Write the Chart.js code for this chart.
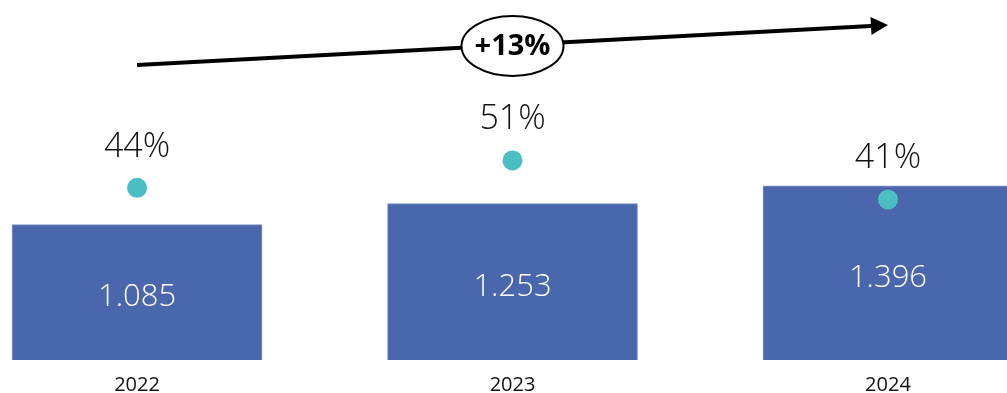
<!DOCTYPE html>
<html lang="es">

<head>
    <meta charset="UTF-8">
    <title>Chart</title>
    <style>
        body {
            margin: 0;
            background: #fff;
        }

        .container {
            width: 1007px;
            height: 393px;
        }
    </style>
</head>

<body>
    <div class="container">
        <canvas id="myChart" width="1007" height="393"></canvas>
    </div>
    <script src="https://cdn.jsdelivr.net/npm/chart.js@4"></script>
    <script>
        let years = ['2022', '2023', '2024'];
        let totals = [1085, 1253, 1396];
        let shares = [44, 51, 41];
        let growthLabel = '+13%';

        let thinFont = '"Open Sans", "Lato", sans-serif';

        // 1085 -> "1.085"
        let fmt = n => String(n).replace(/\B(?=(\d{3})+(?!\d))/g, '.');

        let labelsPlugin = {
            id: 'labels',
            afterDatasetsDraw(chart) {
                let ctx = chart.ctx;
                ctx.save();
                ctx.textAlign = 'center';
                ctx.textBaseline = 'middle';

                let bars = chart.getDatasetMeta(1);
                ctx.fillStyle = '#ffffff';
                ctx.font = '300 31px ' + thinFont;
                bars.data.forEach((el, i) => {
                    ctx.fillText(fmt(totals[i]), el.x, (el.y + el.base) / 2 + 5);
                });

                let pts = chart.getDatasetMeta(0);
                ctx.fillStyle = '#111';
                ctx.font = '300 34px ' + thinFont;
                pts.data.forEach((el, i) => {
                    ctx.fillText(shares[i] + '%', el.x, el.y - 41);
                });
                ctx.restore();
            }
        };

        let arrowPlugin = {
            id: 'arrow',
            afterDraw(chart) {
                let ctx = chart.ctx;
                let xs = chart.scales.x;
                let x0 = xs.getPixelForValue(0);
                let x1 = xs.getPixelForValue(years.length - 1);
                let y0 = 65, y1 = 25;
                let headLen = 17, headW = 9;
                let ang = Math.atan2(y1 - y0, x1 - x0);
                let bx = x1 - headLen * Math.cos(ang);
                let by = y1 - headLen * Math.sin(ang);

                ctx.save();
                ctx.strokeStyle = '#000';
                ctx.fillStyle = '#000';
                ctx.lineWidth = 4;
                ctx.beginPath();
                ctx.moveTo(x0, y0);
                ctx.lineTo(bx, by);
                ctx.stroke();

                ctx.beginPath();
                ctx.moveTo(x1, y1);
                ctx.lineTo(bx + headW * Math.sin(ang), by - headW * Math.cos(ang));
                ctx.lineTo(bx - headW * Math.sin(ang), by + headW * Math.cos(ang));
                ctx.closePath();
                ctx.fill();

                // ellipse with label in the middle
                let cx = xs.getPixelForValue(1);
                let cy = y0 + (y1 - y0) * (cx - x0) / (x1 - x0);
                ctx.beginPath();
                ctx.ellipse(cx, cy + 1, 51, 30, 0, 0, Math.PI * 2);
                ctx.fillStyle = '#fff';
                ctx.fill();
                ctx.lineWidth = 2;
                ctx.stroke();

                ctx.fillStyle = '#000';
                ctx.font = 'bold 29px "Open Sans", sans-serif';
                ctx.textAlign = 'center';
                ctx.textBaseline = 'middle';
                ctx.fillText(growthLabel, cx, cy + 2);
                ctx.restore();
            }
        };

        let ctx = document.getElementById('myChart').getContext('2d');
        let chart = new Chart(ctx, {
            data: {
                datasets: [{
                    type: 'line',
                    label: 'share',
                    data: shares.map((v, i) => ({ x: i, y: v })),
                    yAxisID: 'y2',
                    showLine: false,
                    pointRadius: 10,
                    pointBackgroundColor: '#4bbec4',
                    pointBorderWidth: 0,
                    order: 0
                }, {
                    type: 'bar',
                    label: 'total',
                    data: totals.map((v, i) => ({ x: i, y: v })),
                    yAxisID: 'y',
                    backgroundColor: '#4a66ad',
                    borderColor: '#7f93c9',
                    borderWidth: 1,
                    barThickness: 250,
                    order: 1
                }]
            },
            options: {
                responsive: false,
                animation: false,
                layout: { padding: { top: 0, left: 0, right: 0, bottom: -17 }, autoPadding: false },
                plugins: {
                    legend: { display: false },
                    tooltip: { enabled: false }
                },
                scales: {
                    x: {
                        type: 'linear',
                        offset: false,
                        min: -0.365,
                        max: 2.317,
                        grid: { display: false, drawTicks: false },
                        border: { display: false },
                        ticks: {
                            stepSize: 1,
                            includeBounds: false,
                            autoSkip: false,
                            maxRotation: 0,
                            padding: 14,
                            color: '#111',
                            font: { family: '"Open Sans", sans-serif', size: 20, lineHeight: 1.1 },
                            callback: v => years[v] ?? ''
                        }
                    },
                    y: {
                        display: false,
                        min: 0,
                        max: 2884
                    },
                    y2: {
                        display: false,
                        min: 0,
                        max: 92
                    }
                }
            },
            plugins: [labelsPlugin, arrowPlugin]
        });
    </script>
</body>

</html>
